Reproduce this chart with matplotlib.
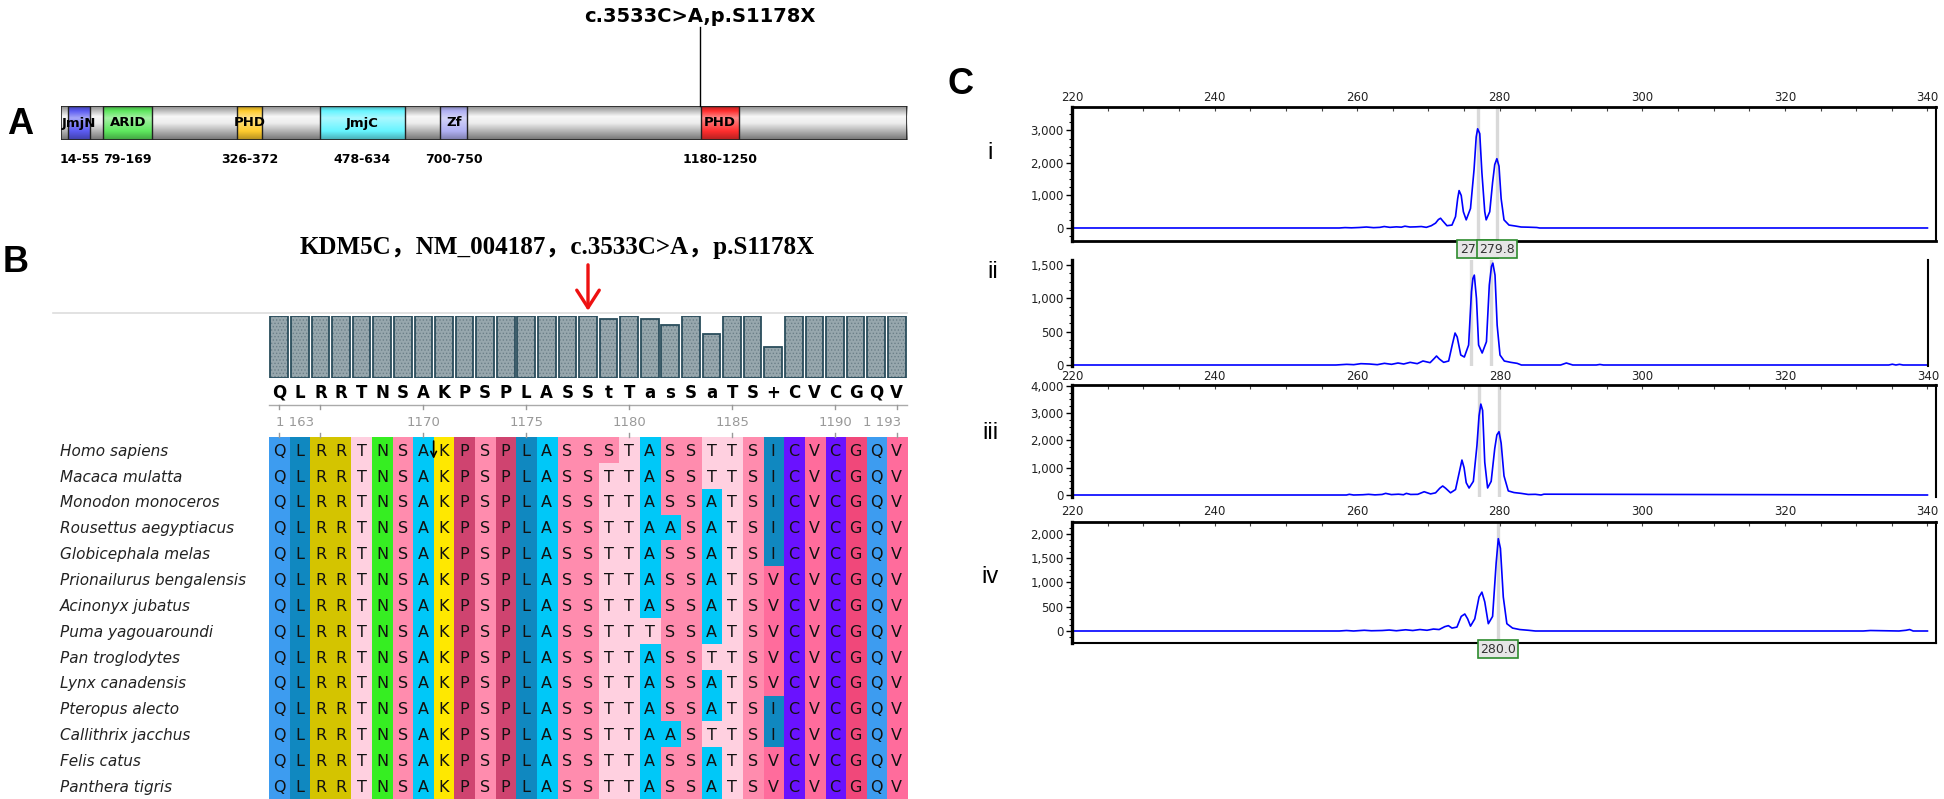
import numpy as np
import matplotlib
matplotlib.use("Agg")
import matplotlib.pyplot as plt
from matplotlib.colors import to_rgb
from matplotlib.patches import Rectangle
from matplotlib.ticker import FuncFormatter, MultipleLocator
import matplotlib.transforms as mtransforms

W, H = 1944, 799

# ---------------- panel A: KDM5C protein domains (aa)
PROT_LEN = 1560
dom_names = ["JmjN", "ARID", "PHD", "JmjC", "Zf", "PHD"]
dom_start = [14, 79, 326, 478, 700, 1180]
dom_end = [55, 169, 372, 634, 750, 1250]
dom_colors = ["#5c5cf2", "#5ee85e", "#ffcc2e", "#66f4ff", "#b0b0f2", "#ff2e2e"]
mut_pos = 1178
mut_label = "c.3533C>A,p.S1178X"

# ---------------- panel B: multiple alignment 1163-1193
first_pos = 1163
consensus = "QLRRTNSAKPSPLASStTasSaTS+CVCGQV"
conservation = [1] * 16 + [0.95, 1, 0.95, 0.86, 1, 0.71, 1, 1, 0.5] + [1] * 6
species = ["Homo sapiens", "Macaca mulatta", "Monodon monoceros", "Rousettus aegyptiacus",
           "Globicephala melas", "Prionailurus bengalensis", "Acinonyx jubatus",
           "Puma yagouaroundi", "Pan troglodytes", "Lynx canadensis", "Pteropus alecto",
           "Callithrix jacchus", "Felis catus", "Panthera tigris"]
seqs = ["QLRRTNSAKPSPLASS" + tail for tail in [
    "STASSTTSICVCGQV", "TTASSTTSICVCGQV", "TTASSATSICVCGQV", "TTAASATSICVCGQV",
    "TTASSATSICVCGQV", "TTASSATSVCVCGQV", "TTASSATSVCVCGQV", "TTTSSATSVCVCGQV",
    "TTASSTTSVCVCGQV", "TTASSATSVCVCGQV", "TTASSATSICVCGQV", "TTAASTTSICVCGQV",
    "TTASSATSVCVCGQV", "TTASSATSVCVCGQV"]]
res_colors = {"Q": "#3d9cf0", "L": "#1088c0", "I": "#1088c0", "R": "#d4c400",
              "T": "#ffd0e0", "N": "#36ee22", "S": "#ff8cae", "A": "#00c8f8",
              "K": "#ffe800", "P": "#cf4470", "C": "#6a12ff", "V": "#ff6c9c",
              "G": "#f0487a"}
tick_pos = [1163, 1165, 1170, 1175, 1180, 1185, 1190, 1193]
tick_lab = {1163: "1 163", 1170: "1170", 1175: "1175", 1180: "1180",
            1185: "1185", 1190: "1190", 1193: "1 193"}

# ---------------- panel C: fragment analysis traces
trace_i_x = [220, 257.5, 258.3, 259.2, 260.3, 261.3, 262.3, 263.2, 263.8, 264.6, 265.5, 266.2,
             266.7, 267.4, 268.2, 269.0, 269.7, 270.4, 271.0, 271.4, 271.7, 272.0, 272.6, 273.3,
             273.8, 274.1, 274.3, 274.6, 274.9, 275.3, 275.9, 276.4, 276.7, 276.9, 277.2, 277.5,
             277.9, 278.1, 278.6, 279.0, 279.3, 279.6, 279.9, 280.2, 280.6, 281.3, 282.2, 283.0,
             284.0, 285.2, 285.6, 340]
trace_i_y = [0, 0, 12, 5, 15, 30, 10, 20, 45, 20, 35, 25, 55, 30, 35, 45, 20, 70, 150, 260,
             300, 220, 70, 90, 350, 900, 1150, 1000, 500, 250, 600, 1800, 2800, 3050, 2900,
             1700, 500, 250, 500, 1400, 1950, 2130, 1900, 900, 250, 90, 60, 30, 25, 15, 0, 0]
trace_ii_x = [220, 257.0, 258.5, 259.5, 260.5, 261.7, 262.8, 263.8, 264.8, 265.7, 266.5, 267.4,
              268.4, 269.2, 270.2, 270.8, 271.1, 271.5, 272.1, 272.8, 273.3, 273.7, 274.0, 274.5,
              275.0, 275.6, 276.0, 276.2, 276.4, 276.7, 277.0, 277.5, 278.1, 278.5, 278.8, 279.0,
              279.3, 279.6, 280.0, 280.6, 281.5, 282.4, 283.0, 288.5, 289.3, 290.2, 293.5, 294.0,
              294.5, 334.5, 335.0, 335.5, 336.0, 336.5, 340]
trace_ii_y = [0, 0, 10, 5, 20, 15, 5, 25, 10, 30, 15, 40, 20, 60, 35, 100, 135, 90, 40, 60,
              300, 480, 420, 150, 120, 300, 1100, 1300, 1350, 1000, 300, 180, 350, 1200, 1480,
              1530, 1350, 600, 150, 60, 40, 25, 0, 0, 30, 0, 0, 8, 0, 0, 12, 0, 10, 0, 0]
trace_iii_x = [220, 258.5, 258.9, 259.5, 260.8, 261.6, 262.5, 263.5, 264.0, 264.8, 265.8, 266.5,
               266.9, 267.5, 268.5, 269.4, 270.3, 271.0, 271.6, 272.0, 272.4, 273.1, 273.8,
               274.3, 274.7, 275.0, 275.3, 275.7, 276.3, 276.8, 277.1, 277.35, 277.6, 277.9,
               278.3, 278.8, 279.3, 279.6, 279.9, 280.2, 280.6, 281.2, 282.0, 283.0, 284.0,
               285.0, 285.8, 286.2, 340]
trace_iii_y = [0, 0, 25, 0, 10, 25, 5, 20, 60, 15, 30, 10, 60, 20, 25, 120, 40, 80, 250, 330,
               250, 80, 200, 800, 1280, 1000, 450, 256, 500, 1800, 2900, 3330, 3100, 1200, 258,
               500, 1700, 2200, 2320, 1900, 700, 150, 90, 60, 20, 25, 0, 30, 0]
trace_iv_x = [220, 257.5, 258.5, 259.5, 261.0, 262.0, 263.5, 264.5, 265.5, 266.8, 267.8, 268.8,
              269.8, 270.7, 271.5, 272.3, 272.8, 273.3, 274.0, 274.6, 275.1, 275.5, 275.9, 276.5,
              277.1, 277.5, 277.9, 278.4, 279.0, 279.5, 279.8, 280.1, 280.5, 281.0, 281.8,
              282.8, 284.0, 285.0, 331.0, 332.0, 336.0, 337.0, 337.5, 338.0, 340]
trace_iv_y = [0, 0, 10, 0, 15, 5, 10, 20, 5, 25, 10, 30, 15, 40, 30, 90, 110, 60, 80, 300, 350,
              250, 100, 250, 700, 800, 600, 150, 300, 1400, 1900, 1700, 700, 150, 60, 30, 15, 0,
              0, 10, 0, 15, 30, 0, 0]
bins_i, calls_i = [276.9, 279.6], ["277.0", "279.8"]
bins_ii = [276.0, 278.7]
bins_iii = [277.1, 279.9]
bins_iv, calls_iv = [279.8], ["280.0"]
yticks_i = [0, 1000, 2000, 3000]
yticks_ii = [0, 500, 1000, 1500]
yticks_iii = [0, 1000, 2000, 3000, 4000]
yticks_iv = [0, 500, 1000, 1500, 2000]

BOLD_LBL = ["Liberation Sans Narrow", "Liberation Sans", "DejaVu Sans"]

fig = plt.figure(figsize=(W / 100, H / 100), dpi=100)


def px_axes(x0, y0, x1, y1):
    return fig.add_axes([x0 / W, 1 - y1 / H, (x1 - x0) / W, (y1 - y0) / H])


def fig_text(x, y, s, **kw):
    fig.text(x / W, 1 - y / H, s, **kw)


for lab, (lx, ly) in zip("ABC", [(20, 124), (16, 262), (960, 84)]):
    fig_text(lx, ly, lab, fontsize=26, fontweight="bold", family=BOLD_LBL,
             ha="center", va="center")

# ---------------- A  (bar spans y 106-140 px; y units = bar heights)
axA = px_axes(61, 106, 907, 140)
t = np.linspace(0, 1, 80)[:, None]
g = np.interp(t, [0, .3, .5, 1], [.55, .97, .93, .45])
axA.imshow(np.dstack([g, g, g]), extent=(1, PROT_LEN, 0, 1), aspect="auto", zorder=1)
axA.add_patch(Rectangle((1, 0), PROT_LEN - 1, 1, fill=False, ec="#222", lw=1.2, zorder=3))
f = np.interp(t, [0, .35, 1], [-.3, .45, -.3])
for name, s, e, c in zip(dom_names, dom_start, dom_end, dom_colors):
    col = np.array(to_rgb(c))[None, None, :]
    ff = f[:, :, None]
    img = np.where(ff > 0, col + ff * (1 - col), col * (1 + ff))
    axA.imshow(img, extent=(s, e, 0, 1), aspect="auto", zorder=2)
    axA.add_patch(Rectangle((s, 0), e - s, 1, fill=False, ec="#222", lw=1, zorder=3))
    axA.text((s + e) / 2, 0.5, name, ha="center", va="center", fontsize=9.5,
             fontweight="bold", zorder=4)
    axA.text((s + e) / 2, -0.56, f"{s}-{e}", ha="center", va="center", fontsize=9,
             fontweight="bold", clip_on=False)
axA.plot([mut_pos, mut_pos], [1, 3.32], color="k", lw=1, clip_on=False, zorder=4)
axA.text(mut_pos, 3.62, mut_label, ha="center", va="center", fontsize=14,
         fontweight="bold", clip_on=False)
axA.set_xlim(1, PROT_LEN)
axA.set_ylim(0, 1)
axA.axis("off")

# ---------------- B: conservation track + consensus
ncol = len(consensus)
xc = np.arange(ncol) + 0.5
plt.rcParams["hatch.linewidth"] = 0.6
axCons = px_axes(269, 316, 907, 378)
axCons.bar(xc, conservation, width=0.86, bottom=0, color="#97a7ad", ec="#6b7f88",
           lw=0, hatch=".....")
axCons.bar(xc, conservation, width=0.86, bottom=0, fill=False, ec="#2a4d5c", lw=1.3)
axCons.plot([-10.5, ncol], [1.05, 1.05], color="#dddddd", lw=1.2, clip_on=False, zorder=0)
for i, ch in enumerate(consensus):
    axCons.text(xc[i], -0.24, ch, ha="center", va="center", fontsize=12,
                fontweight="bold", clip_on=False)
axCons.plot([0, ncol], [-0.435, -0.435], color="#aaaaaa", lw=1, clip_on=False)
for p in tick_pos:
    x = p - first_pos + 0.5
    axCons.plot([x, x], [-0.435, -0.5], color="#999999", lw=1, clip_on=False)
    if p in tick_lab:
        ha = "left" if p == tick_pos[0] else ("right" if p == tick_pos[-1] else "center")
        dx = -0.15 if ha == "left" else (0.2 if ha == "right" else 0)
        axCons.text(x + dx, -0.71, tick_lab[p], ha=ha, va="center", fontsize=9.5,
                    color="#999999", clip_on=False)
axCons.text(1.5, 2.11, "KDM5C，NM_004187，c.3533C>A，p.S1178X", ha="left", va="center",
            fontsize=18, fontweight="bold", family=["Liberation Serif", "Noto Sans CJK SC"],
            clip_on=False)
axCons.annotate("", xy=(mut_pos - first_pos + 0.5, 1.04),
                xytext=(mut_pos - first_pos + 0.5, 1.87), annotation_clip=False,
                arrowprops=dict(arrowstyle="->,head_length=0.7,head_width=0.45",
                                color="#ee1111", lw=2.4, mutation_scale=18))
axCons.set_xlim(0, ncol)
axCons.set_ylim(0, 1)
axCons.axis("off")

# ---------------- B: alignment
axAln = px_axes(269, 437, 907, 799)
rgb = np.array([[to_rgb(res_colors[c]) for c in s] for s in seqs])
axAln.imshow(rgb, extent=(0, ncol, len(seqs), 0), aspect="auto", interpolation="nearest")
for r, s in enumerate(seqs):
    for i, ch in enumerate(s):
        axAln.text(i + 0.5, r + 0.55, ch, ha="center", va="center", fontsize=11.5, color="#111")
    axAln.text(-10.15, r + 0.55, species[r], ha="left", va="center", fontsize=11,
               style="italic", color="#222", clip_on=False)
for p in tick_pos:
    x = p - first_pos + 0.5
    axAln.plot([x, x], [0, -0.17], color="#999999", lw=1, clip_on=False)
axAln.annotate("", xy=(8.0, 0.95), xytext=(8.0, 0.05),
               arrowprops=dict(arrowstyle="->", color="k", lw=1.2))
axAln.set_xlim(0, ncol)
axAln.set_ylim(len(seqs), 0)
axAln.axis("off")

# ---------------- C: electropherograms
panels = [
    ("i", (1072, 107, 1936, 241), (220, 341.2), (-400, 3720), trace_i_x, trace_i_y, bins_i, yticks_i),
    ("ii", (1072, 260, 1928, 366), (220, 340), (-15, 1577), trace_ii_x, trace_ii_y, bins_ii, yticks_ii),
    ("iii", (1072, 385, 1936, 497), (220, 341.2), (-73, 4029), trace_iii_x, trace_iii_y, bins_iii, yticks_iii),
    ("iv", (1072, 522, 1936, 643), (220, 341.2), (-247, 2243), trace_iv_x, trace_iv_y, bins_iv, yticks_iv),
]
numeral_pos = {"i": (990, 153), "ii": (993, 272), "iii": (990, 433), "iv": (990, 577)}
thousands = FuncFormatter(lambda v, pos: f"{v:,.0f}")
axes_c = {}
for name, box, xl, yl, tx, ty, bins, yt in panels:
    ax = px_axes(*box)
    axes_c[name] = ax
    for b in bins:
        ax.axvline(b, color="#d9d9d9", lw=2.4, zorder=0)
    ax.plot(tx, ty, color="#0000ff", lw=1.2, zorder=2)
    ax.set_xlim(*xl)
    ax.set_ylim(*yl)
    ax.set_yticks(yt)
    ax.yaxis.set_major_formatter(thousands)
    ax.yaxis.set_minor_locator(MultipleLocator(yt[1] / 4))
    ax.set_xticks(range(220, 341, 20))
    ax.xaxis.set_minor_locator(MultipleLocator(5))
    ax.tick_params(axis="y", which="major", direction="out", length=4, width=1,
                   labelsize=8.5, labelcolor="#222", pad=2)
    ax.tick_params(axis="y", which="minor", direction="out", length=2, width=0.8)
    ax.tick_params(axis="x", which="both", direction="in", length=3, width=0.8,
                   labelsize=8.5, labelcolor="#222", color="#444")
    for sp in ax.spines.values():
        sp.set_linewidth(1.5)
    ax.spines["left"].set_linewidth(2.4)
    ax.spines["top"].set_linewidth(2)
    fig_text(*numeral_pos[name], name, fontsize=17, family="Liberation Sans",
             ha="center", va="center")

ax = axes_c["i"]
ax.spines["bottom"].set_linewidth(2)
ax.tick_params(axis="x", which="both", top=True, bottom=False, labeltop=True,
               labelbottom=False, pad=2)
ax = axes_c["ii"]
ax.spines["top"].set_visible(False)
ax.spines["bottom"].set_visible(False)
ax.tick_params(axis="x", which="both", top=False, bottom=False, labelbottom=True, pad=3)
ax = axes_c["iii"]
ax.spines["bottom"].set_visible(False)
ax.tick_params(axis="x", which="both", top=True, bottom=False, labelbottom=True, pad=6)
ax = axes_c["iv"]
ax.tick_params(axis="x", which="both", top=True, bottom=False, labelbottom=False)

box_style = dict(boxstyle="square,pad=0.18", fc="#e6e6e6", ec="#2e8b2e", lw=1.2)
tr = mtransforms.blended_transform_factory(axes_c["i"].transData, axes_c["i"].transAxes)
for k, (b, c) in enumerate(zip(bins_i, calls_i)):
    axes_c["i"].text(b, -0.06, c, transform=tr, ha="center", va="center", fontsize=9,
                     color="#333", bbox=box_style, clip_on=False, zorder=5 + 2 * k)
tr = mtransforms.blended_transform_factory(axes_c["iv"].transData, axes_c["iv"].transAxes)
for b, c in zip(bins_iv, calls_iv):
    axes_c["iv"].text(b, -0.05, c, transform=tr, ha="center", va="center", fontsize=9,
                      color="#333", bbox=box_style, clip_on=False, zorder=5)

fig.savefig("out.png", dpi=100)
